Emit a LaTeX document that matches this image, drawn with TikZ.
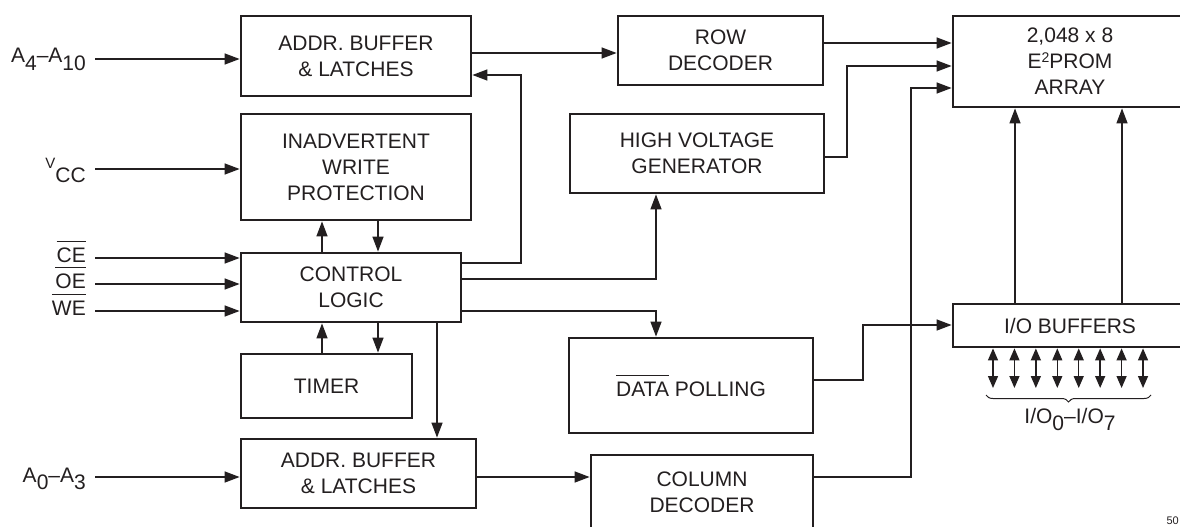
\documentclass[tikz,border=0pt]{standalone}
\usepackage{fontspec}
\setmainfont{Liberation Sans}
\usetikzlibrary{arrows.meta,decorations.pathreplacing}
\definecolor{ink}{RGB}{35,31,32}
\newcommand{\ovbar}[1]{\leavevmode\vbox{\hrule height 1.3pt\kern 5.5pt\hbox{#1}}}
\newcommand{\lowsub}[2][8pt]{\raisebox{-#1}{#2}}
\begin{document}
\begin{tikzpicture}[x=1pt,y=-1pt, font=\fontsize{21}{26}\selectfont,
 box/.style={draw=ink, line width=2.8pt, align=center, inner sep=0pt, text=ink},
 conn/.style={line width=1.4pt, draw=ink},
 arr/.style={conn, -{Triangle[length=15pt,width=11pt]}},
 darr/.style={conn, {Triangle[length=12pt,width=10pt]}-{Triangle[length=12pt,width=10pt]}},
 lbl/.style={inner sep=0pt, anchor=base east, text=ink}]
\useasboundingbox (0,0) rectangle (1180,527);
\clip (0,0) rectangle (1180,527);
\fill[white] (0,0) rectangle (1180,527);

% boxes
\node[box, minimum width=230pt, minimum height=80pt] (addrT) at (356,56) {ADDR. BUFFER\\\& LATCHES};
\node[box, minimum width=230pt, minimum height=106pt] (inadv) at (356,167) {INADVERTENT\\WRITE\\PROTECTION};
\node[box, minimum width=220pt, minimum height=69pt] (ctrl) at (351,287.5) {CONTROL\\LOGIC};
\node[box, minimum width=171pt, minimum height=64pt] (timer) at (326.5,386) {TIMER};
\node[box, minimum width=235pt, minimum height=69pt] (addrB) at (358.5,473.5) {ADDR. BUFFER\\\& LATCHES};
\node[box, minimum width=205pt, minimum height=69pt] (row) at (720.5,50.5) {ROW\\DECODER};
\node[box, minimum width=254pt, minimum height=79pt] (hv) at (697,153.5) {HIGH VOLTAGE\\GENERATOR};
\node[box, minimum width=234pt, minimum height=91pt] (prom) at (1070,61.5) {2,048 x 8\\E\raisebox{6pt}{\fontsize{14}{14}\selectfont 2}PROM\\ARRAY};
\node[box, minimum width=234pt, minimum height=43pt] (io) at (1070,325.5) {I/O BUFFERS};
\node[box, minimum width=244pt, minimum height=95pt] (dp) at (691,385.5) {\ovbar{DATA} POLLING};
\node[box, minimum width=222pt, minimum height=74pt] (col) at (702,492) {COLUMN\\DECODER};

% input labels
\node[lbl] (lA4) at (86,63) {A\lowsub{4}–A\lowsub{10}};
\node[lbl] (lVcc) at (86,182) {\raisebox{14pt}{\fontsize{15}{15}\selectfont V}CC};
\node[lbl] (lCE) at (86,262) {\ovbar{CE}};
\node[lbl] (lOE) at (86,288) {\ovbar{OE}};
\node[lbl] (lWE) at (86,315) {\ovbar{WE}};
\node[lbl] (lA0) at (86,482) {A\lowsub[7pt]{0}–A\lowsub[7pt]{3}};

\coordinate (iA4) at (95,59);
\coordinate (iVcc) at (95,169);
\coordinate (iCE) at (95,258);
\coordinate (iOE) at (95,284);
\coordinate (iWE) at (95,311);
\coordinate (iA0) at (95,477);

\draw[arr] (iA4) -- (addrT.west |- iA4);
\draw[arr] (iVcc) -- (inadv.west |- iVcc);
\draw[arr] (iCE) -- (ctrl.west |- iCE);
\draw[arr] (iOE) -- (ctrl.west |- iOE);
\draw[arr] (iWE) -- (ctrl.west |- iWE);
\draw[arr] (iA0) -- (addrB.west |- iA0);

% control block connections
\draw[arr] (ctrl.north -| 322,0) -- (inadv.south -| 322,0);
\draw[arr] (inadv.south -| 378,0) -- (ctrl.north -| 378,0);
\draw[arr] (timer.north -| 322,0) -- (ctrl.south -| 322,0);
\draw[arr] (ctrl.south -| 378,0) -- (timer.north -| 378,0);
\draw[arr] (ctrl.south -| 437,0) -- (addrB.north -| 437,0);
\draw[arr] (ctrl.east |- 0,263) -| (521,75) -- (addrT.east |- 0,75);
\draw[arr] (ctrl.east |- 0,279) -| (hv.south -| 656,0);
\draw[arr] (ctrl.east |- 0,311) -| (dp.north -| 656,0);

% address paths
\draw[arr] (addrT.east |- 0,53) -- (row.west |- 0,53);
\draw[arr] (addrB.east |- 0,477) -- (col.west |- 0,477);

% to array
\draw[arr] (row.east |- 0,43) -- (prom.west |- 0,43);
\draw[arr] (hv.east |- 0,157) -| (847,66) -- (prom.west |- 0,66);
\draw[arr] (col.east |- 0,477) -| (911,88) -- (prom.west |- 0,88);
\draw[arr] (dp.east |- 0,380) -| (863,325) -- (io.west |- 0,325);
\draw[arr] (io.north -| 1015,0) -- (prom.south -| 1015,0);
\draw[arr] (io.north -| 1122,0) -- (prom.south -| 1122,0);

% I/O pins
\foreach \i in {0,...,7} {
  \pgfmathsetmacro\xx{993+21.43*\i}
  \coordinate (pin\i) at (\xx,388);
  \draw[darr] (io.south -| pin\i) -- (pin\i);
}
\draw[ink, line width=1pt, decorate, decoration={brace, mirror, amplitude=7pt}] (986,395) -- (1151,395);
\node[inner sep=0pt, anchor=base, text=ink] (lio) at (1070,423) {I/O\lowsub[7pt]{0}–I/O\lowsub[7pt]{7}};

\node[inner sep=0pt, anchor=base east, text=ink, font=\fontsize{11}{11}\selectfont] (fig) at (1179,524) {50};
\end{tikzpicture}
\end{document}
